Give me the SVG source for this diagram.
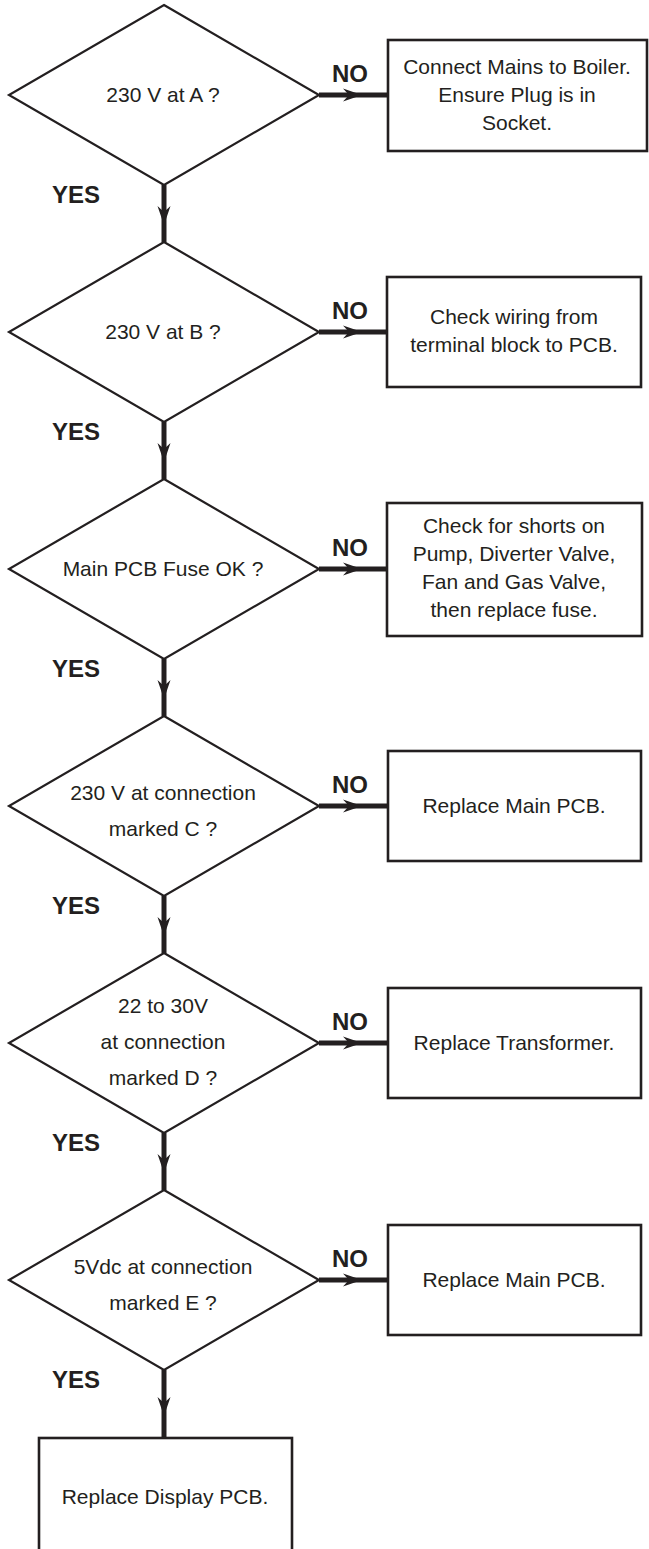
<svg xmlns="http://www.w3.org/2000/svg" width="649" height="1549" viewBox="0 0 649 1549">
<style>
.shape{fill:#fff;stroke:#231f20;stroke-width:2.2}
.box{fill:#fff;stroke:#231f20;stroke-width:2.6}
.t{font-family:"Liberation Sans",Arial,sans-serif;font-size:21px;fill:#231f20;text-anchor:middle}
.lbl{font-family:"Liberation Sans",Arial,sans-serif;font-size:24px;font-weight:bold;fill:#231f20}
.line{stroke:#231f20;stroke-width:5;fill:none}
.head{fill:#231f20}
</style>
<defs>
<path id="ah" d="M0,0 L-6.5,-19 L0,-13 L6.5,-19 Z"/>
</defs>
<g id="connectors">
<line class="line" x1="164" y1="185" x2="164" y2="242"/>
<line class="line" x1="164" y1="422" x2="164" y2="479"/>
<line class="line" x1="164" y1="659" x2="164" y2="716"/>
<line class="line" x1="164" y1="896" x2="164" y2="953"/>
<line class="line" x1="164" y1="1133" x2="164" y2="1190"/>
<line class="line" x1="164" y1="1370" x2="164" y2="1438"/>
<use href="#ah" class="head" transform="translate(164,225)"/>
<use href="#ah" class="head" transform="translate(164,462)"/>
<use href="#ah" class="head" transform="translate(164,699)"/>
<use href="#ah" class="head" transform="translate(164,936)"/>
<use href="#ah" class="head" transform="translate(164,1173)"/>
<use href="#ah" class="head" transform="translate(164,1416)"/>
<line class="line" x1="319" y1="95" x2="388" y2="95"/>
<line class="line" x1="319" y1="332" x2="387" y2="332"/>
<line class="line" x1="319" y1="569" x2="387" y2="569"/>
<line class="line" x1="319" y1="806" x2="388" y2="806"/>
<line class="line" x1="319" y1="1043" x2="388" y2="1043"/>
<line class="line" x1="319" y1="1280" x2="388" y2="1280"/>
<use href="#ah" class="head" transform="translate(362,95) rotate(-90)"/>
<use href="#ah" class="head" transform="translate(362,332) rotate(-90)"/>
<use href="#ah" class="head" transform="translate(362,569) rotate(-90)"/>
<use href="#ah" class="head" transform="translate(362,806) rotate(-90)"/>
<use href="#ah" class="head" transform="translate(362,1043) rotate(-90)"/>
<use href="#ah" class="head" transform="translate(362,1280) rotate(-90)"/>
<text class="lbl" x="332" y="82">NO</text>
<text class="lbl" x="332" y="319">NO</text>
<text class="lbl" x="332" y="556">NO</text>
<text class="lbl" x="332" y="793">NO</text>
<text class="lbl" x="332" y="1030">NO</text>
<text class="lbl" x="332" y="1267">NO</text>
<text class="lbl" x="52" y="203">YES</text>
<text class="lbl" x="52" y="440">YES</text>
<text class="lbl" x="52" y="677">YES</text>
<text class="lbl" x="52" y="914">YES</text>
<text class="lbl" x="52" y="1151">YES</text>
<text class="lbl" x="52" y="1388">YES</text>
</g>
<g id="d1">
<polygon class="shape" points="164,5 319,95 164,185 9,95"/>
<text class="t" x="163" y="102">230 V at A ?</text>
</g>
<g id="b1">
<rect class="box" x="388" y="40" width="259" height="111"/>
<text class="t" x="517" y="74">Connect Mains to Boiler.</text>
<text class="t" x="517" y="102">Ensure Plug is in</text>
<text class="t" x="517" y="130">Socket.</text>
</g>
<g id="d2">
<polygon class="shape" points="164,242 319,332 164,422 9,332"/>
<text class="t" x="163" y="339">230 V at B ?</text>
</g>
<g id="b2">
<rect class="box" x="387" y="277" width="254" height="110"/>
<text class="t" x="514" y="324">Check wiring from</text>
<text class="t" x="514" y="352">terminal block to PCB.</text>
</g>
<g id="d3">
<polygon class="shape" points="164,479 319,569 164,659 9,569"/>
<text class="t" x="163" y="576">Main PCB Fuse OK ?</text>
</g>
<g id="b3">
<rect class="box" x="387" y="503" width="255" height="133"/>
<text class="t" x="514" y="533">Check for shorts on</text>
<text class="t" x="514" y="561">Pump, Diverter Valve,</text>
<text class="t" x="514" y="589">Fan and Gas Valve,</text>
<text class="t" x="514" y="617">then replace fuse.</text>
</g>
<g id="d4">
<polygon class="shape" points="164,716 319,806 164,896 9,806"/>
<text class="t" x="163" y="800">230 V at connection</text>
<text class="t" x="163" y="836">marked C ?</text>
</g>
<g id="b4">
<rect class="box" x="388" y="751" width="253" height="110"/>
<text class="t" x="514" y="813">Replace Main PCB.</text>
</g>
<g id="d5">
<polygon class="shape" points="164,953 319,1043 164,1133 9,1043"/>
<text class="t" x="163" y="1013">22 to 30V</text>
<text class="t" x="163" y="1049">at connection</text>
<text class="t" x="163" y="1085">marked D ?</text>
</g>
<g id="b5">
<rect class="box" x="388" y="988" width="253" height="110"/>
<text class="t" x="514" y="1050">Replace Transformer.</text>
</g>
<g id="d6">
<polygon class="shape" points="164,1190 319,1280 164,1370 9,1280"/>
<text class="t" x="163" y="1274">5Vdc at connection</text>
<text class="t" x="163" y="1310">marked E ?</text>
</g>
<g id="b6">
<rect class="box" x="388" y="1225" width="253" height="110"/>
<text class="t" x="514" y="1287">Replace Main PCB.</text>
</g>
<g id="b7">
<rect class="box" x="39" y="1438" width="253" height="130"/>
<text class="t" x="165" y="1504">Replace Display PCB.</text>
</g>
</svg>
